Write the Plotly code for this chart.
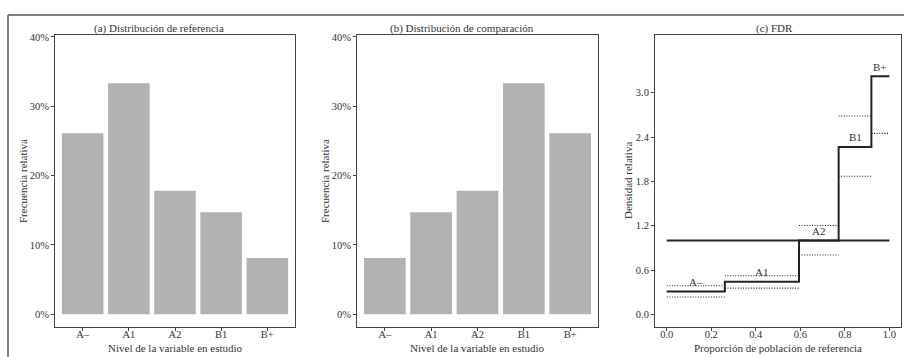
import plotly.graph_objects as go

# Category levels and relative frequencies
levels = ["A–", "A1", "A2", "B1", "B+"]
ref_freq = [0.261, 0.333, 0.178, 0.147, 0.081]
cmp_freq = [0.081, 0.147, 0.178, 0.333, 0.261]

# Confidence band of the relative density (upper B+ lies above the panel)
ci_low = [0.236, 0.357, 0.805, 1.87, 2.45]
ci_high = [0.389, 0.523, 1.203, 2.685, None]

pct_ticks = [0, 0.1, 0.2, 0.3, 0.4]
pct_labels = ["0%", "10%", "20%", "30%", "40%"]
dens_ticks = [0.0, 0.6, 1.2, 1.8, 2.4, 3.0]
prop_ticks = [0.0, 0.2, 0.4, 0.6, 0.8, 1.0]

# Derived: relative density and cumulative reference proportions
rel_dens = [c / r for c, r in zip(cmp_freq, ref_freq)]
breaks = [0.0]
for r in ref_freq:
    breaks.append(breaks[-1] + r)

W, H = 904, 357
FONT = "Liberation Serif"
INK = "#333333"
BAR = "#b2b2b5"


def px_x(a, b):
    return [a / W, b / W]


y_dom = [(H - 326.7) / H, (H - 31.7) / H]

fig = go.Figure()

fig.add_trace(go.Bar(x=levels, y=ref_freq, marker=dict(color=BAR, line=dict(width=0)),
                     xaxis="x", yaxis="y", showlegend=False))
fig.add_trace(go.Bar(x=levels, y=cmp_freq, marker=dict(color=BAR, line=dict(width=0)),
                     xaxis="x2", yaxis="y2", showlegend=False))

# Reference line at density 1
fig.add_trace(go.Scatter(x=[0, 1], y=[1, 1], mode="lines",
                         line=dict(color="#222", width=2),
                         xaxis="x3", yaxis="y3", showlegend=False))

# Confidence segments (dotted)
for band in (ci_low, ci_high):
    xs, ys = [], []
    for i, v in enumerate(band):
        if v is None:
            continue
        xs += [breaks[i], breaks[i + 1], None]
        ys += [v, v, None]
    fig.add_trace(go.Scatter(x=xs, y=ys, mode="lines",
                             line=dict(color="#222", width=1.1, dash="1px,1.6px"),
                             xaxis="x3", yaxis="y3", showlegend=False))

# Relative density step function
fig.add_trace(go.Scatter(x=breaks, y=rel_dens + [rel_dens[-1]], mode="lines",
                         line=dict(color="#222", width=2, shape="hv"),
                         xaxis="x3", yaxis="y3", showlegend=False))

# Category labels over each step
label_offset = 0.13
for i, lab in enumerate(levels):
    fig.add_annotation(x=(breaks[i] + breaks[i + 1]) / 2, y=rel_dens[i] + label_offset,
                       text=lab, showarrow=False, xref="x3", yref="y3",
                       font=dict(family=FONT, size=11, color=INK))

axis_common = dict(showline=True, mirror=True, linecolor="#444", linewidth=1,
                   ticks="outside", ticklen=3, tickwidth=1, tickcolor="#444",
                   showgrid=False, zeroline=False,
                   tickfont=dict(family=FONT, size=10.5, color=INK))
x_extra = dict(ticklabelstandoff=-6)
title_font = dict(family=FONT, size=11, color=INK)

fig.update_layout(
    width=W, height=H,
    margin=dict(l=0, r=0, t=0, b=0),
    paper_bgcolor="white", plot_bgcolor="white",
    bargap=0.1,
    xaxis=dict(domain=px_x(55, 295), anchor="y", range=[-0.6, 4.6], **axis_common, **x_extra),
    yaxis=dict(domain=y_dom, anchor="x", range=[-0.0186, 0.4023],
               tickvals=pct_ticks, ticktext=pct_labels, **axis_common),
    xaxis2=dict(domain=px_x(357, 598), anchor="y2", range=[-0.6, 4.6], **axis_common, **x_extra),
    yaxis2=dict(domain=y_dom, anchor="x2", range=[-0.0186, 0.4023],
                tickvals=pct_ticks, ticktext=pct_labels, **axis_common),
    xaxis3=dict(domain=px_x(655, 901), anchor="y3", range=[-0.0526, 1.052],
                tickvals=prop_ticks, tickformat=".1f", **axis_common, **x_extra),
    yaxis3=dict(domain=y_dom, anchor="x3", range=[-0.17, 3.776],
                tickvals=dens_ticks, tickformat=".1f", **axis_common),
)

# Panel titles and axis titles
texts = [
    (158.8, 25, "(a) Distribución de referencia", 0),
    (461.7, 25, "(b) Distribución de comparación", 0),
    (774.7, 25, "(c) FDR", 0),
    (175, 348, "Nivel de la variable en estudio", 0),
    (477.5, 348, "Nivel de la variable en estudio", 0),
    (778, 348, "Proporción de población de referencia", 0),
    (23, 179, "Frecuencia relativa", -90),
    (325, 179, "Frecuencia relativa", -90),
    (628, 179, "Densidad relativa", -90),
]
for x, y, t, ang in texts:
    fig.add_annotation(x=x / W, y=(H - y) / H, xref="paper", yref="paper",
                       text=t, showarrow=False, textangle=ang,
                       xanchor="center", yanchor="middle", font=title_font)

# Outer frame (top and left edges)
fig.add_shape(type="line", xref="paper", yref="paper",
              x0=8 / W, y0=(H - 11) / H, x1=1, y1=(H - 11) / H,
              line=dict(color="#555", width=1.5))
fig.add_shape(type="line", xref="paper", yref="paper",
              x0=8 / W, y0=(H - 11) / H, x1=8 / W, y1=0,
              line=dict(color="#555", width=1.5))

fig.write_html("out.html")
